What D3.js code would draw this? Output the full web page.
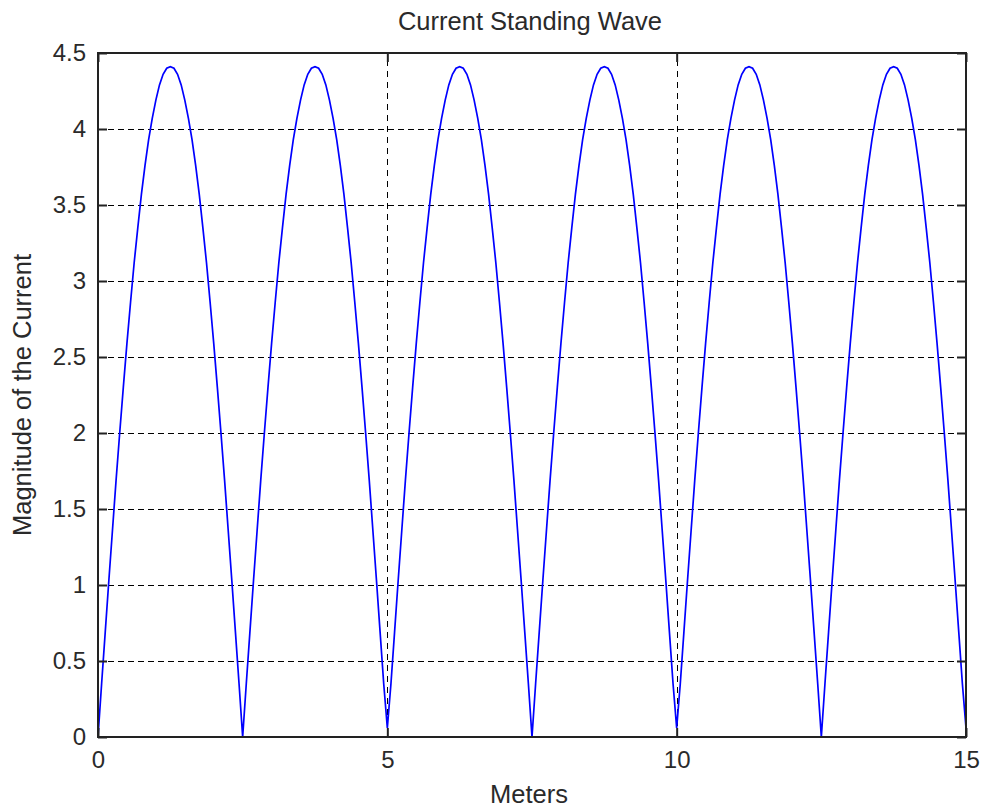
<!DOCTYPE html>
<html><head><meta charset="utf-8">
<script src="https://cdn.jsdelivr.net/npm/d3@7"></script>
<style>
body{margin:0;background:#fff;}
svg{display:block;}
text{font-family:"Liberation Sans",Arial,Helvetica,sans-serif;fill:#2a2a2a;}
</style></head>
<body>
<svg id="c" width="982" height="809"></svg>
<script>
const xStep = 0.0625;
const magnitude = [
 0.00,0.35,0.69,1.03,1.36,1.69,2.00,2.30,2.59,2.86,3.12,3.35,3.57,3.76,3.93,4.07,4.19,4.29,4.36,4.40,
 4.41,4.40,4.36,4.29,4.19,4.07,3.93,3.76,3.57,3.35,3.12,2.86,2.59,2.30,2.00,1.69,1.36,1.03,0.69,0.35,
 0.00,0.35,0.69,1.03,1.36,1.69,2.00,2.30,2.59,2.86,3.12,3.35,3.57,3.76,3.93,4.07,4.19,4.29,4.36,4.40,
 4.41,4.40,4.36,4.29,4.19,4.07,3.93,3.76,3.57,3.35,3.12,2.86,2.59,2.30,2.00,1.69,1.36,1.03,0.69,0.35,
 0.06,0.35,0.69,1.03,1.36,1.69,2.00,2.30,2.59,2.86,3.12,3.35,3.57,3.76,3.93,4.07,4.19,4.29,4.36,4.40,
 4.41,4.40,4.36,4.29,4.19,4.07,3.93,3.76,3.57,3.35,3.12,2.86,2.59,2.30,2.00,1.69,1.36,1.03,0.69,0.35,
 0.00,0.35,0.69,1.03,1.36,1.69,2.00,2.30,2.59,2.86,3.12,3.35,3.57,3.76,3.93,4.07,4.19,4.29,4.36,4.40,
 4.41,4.40,4.36,4.29,4.19,4.07,3.93,3.76,3.57,3.35,3.12,2.86,2.59,2.30,2.00,1.69,1.36,1.03,0.69,0.35,
 0.06,0.35,0.69,1.03,1.36,1.69,2.00,2.30,2.59,2.86,3.12,3.35,3.57,3.76,3.93,4.07,4.19,4.29,4.36,4.40,
 4.41,4.40,4.36,4.29,4.19,4.07,3.93,3.76,3.57,3.35,3.12,2.86,2.59,2.30,2.00,1.69,1.36,1.03,0.69,0.35,
 0.00,0.35,0.69,1.03,1.36,1.69,2.00,2.30,2.59,2.86,3.12,3.35,3.57,3.76,3.93,4.07,4.19,4.29,4.36,4.40,
 4.41,4.40,4.36,4.29,4.19,4.07,3.93,3.76,3.57,3.35,3.12,2.86,2.59,2.30,2.00,1.69,1.36,1.03,0.69,0.35,
 0.06
];
const meters = magnitude.map((_, i) => i * xStep);
const xTicks = [0, 5, 10, 15];
const yTicks = [0, 0.5, 1, 1.5, 2, 2.5, 3, 3.5, 4, 4.5];
const titleText = "Current Standing Wave";
const xLabel = "Meters";
const yLabel = "Magnitude of the Current";

const svg = d3.select("#c");
const L = 98, R = 966, T = 53, B = 737;
const x = d3.scaleLinear().domain([0, 15]).range([L, R]);
const y = d3.scaleLinear().domain([0, 4.5]).range([B, T]);
const tickFs = 24, labelFs = 25.5;

// grid
const g = svg.append("g").attr("shape-rendering", "crispEdges");
g.selectAll(".hg").data(yTicks.filter(v => v > 0 && v < 4.5)).join("line")
  .attr("x1", L).attr("x2", R).attr("y1", d => Math.round(y(d)) + 0.5).attr("y2", d => Math.round(y(d)) + 0.5)
  .attr("stroke", "#000").attr("stroke-width", 1.5).attr("stroke-dasharray", "6,4");
g.selectAll(".vg").data(xTicks.filter(v => v > 0 && v < 15)).join("line")
  .attr("y1", B).attr("y2", T).attr("x1", d => Math.round(x(d)) + 0.5).attr("x2", d => Math.round(x(d)) + 0.5)
  .attr("stroke", "#000").attr("stroke-width", 1.5).attr("stroke-dasharray", "6,5");

// line
const line = d3.line().x((d, i) => x(meters[i])).y(d => y(d));
svg.append("path").datum(magnitude).attr("d", line)
  .attr("fill", "none").attr("stroke", "#0000ff").attr("stroke-width", 1.7);

// axes using d3 axis (ticks inside)
const axStyle = sel => {
  sel.select(".domain").remove();
  sel.selectAll(".tick line").attr("stroke", "#222").attr("stroke-width", 2);
  sel.selectAll(".tick text").attr("font-size", tickFs).attr("fill", "#2a2a2a")
     .attr("font-family", '"Liberation Sans",Arial,sans-serif');
};
const fmt = d => String(d);
svg.append("g").attr("transform", `translate(0,${B})`)
  .call(d3.axisBottom(x).tickValues(xTicks).tickFormat(fmt).tickSizeInner(-9).tickPadding(14))
  .call(axStyle);
svg.append("g").attr("transform", `translate(0,${T})`)
  .call(d3.axisTop(x).tickValues(xTicks).tickFormat("").tickSizeInner(-9))
  .call(axStyle);
svg.append("g").attr("transform", `translate(${L},0)`)
  .call(d3.axisLeft(y).tickValues(yTicks).tickFormat(fmt).tickSizeInner(-9).tickPadding(12))
  .call(axStyle);
svg.append("g").attr("transform", `translate(${R},0)`)
  .call(d3.axisRight(y).tickValues(yTicks).tickFormat("").tickSizeInner(-9))
  .call(axStyle);

// box
svg.append("rect").attr("x", L).attr("y", T).attr("width", R - L).attr("height", B - T)
  .attr("fill", "none").attr("stroke", "#222").attr("stroke-width", 2);

// labels
svg.append("text").attr("x", (L + R) / 2 - 2).attr("y", 30).attr("text-anchor", "middle")
  .attr("font-size", labelFs).text(titleText);
svg.append("text").attr("x", (L + R) / 2 - 3).attr("y", 803).attr("text-anchor", "middle")
  .attr("font-size", labelFs).text(xLabel);
svg.append("text").attr("transform", `translate(31,${(T + B) / 2}) rotate(-90)`)
  .attr("text-anchor", "middle").attr("font-size", labelFs).text(yLabel);
</script>
</body></html>
